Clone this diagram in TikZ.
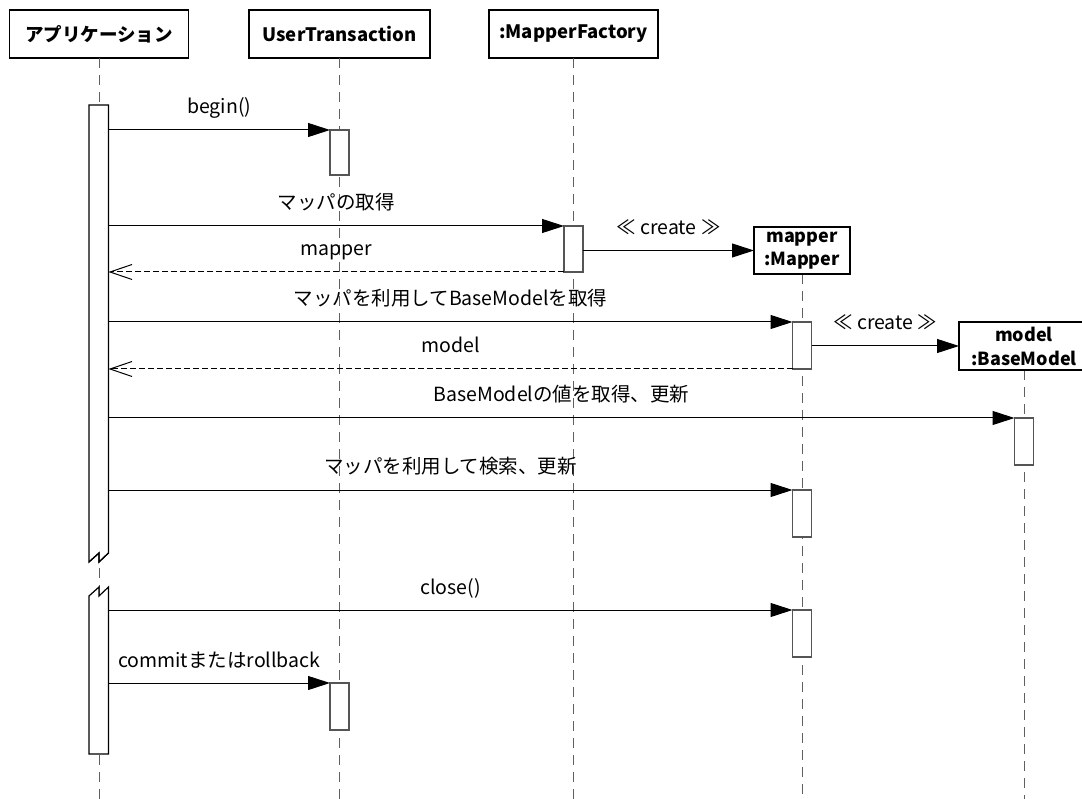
\documentclass[tikz,border=0pt]{standalone}
\usepackage{fontspec}
\setmainfont{Noto Sans CJK JP}
\usetikzlibrary{arrows.meta}
\definecolor{lifegray}{HTML}{606060}
\definecolor{bargray}{HTML}{555555}
\tikzset{
  head/.style={draw=black, line width=1.2pt, fill=white, minimum height=48pt,
    inner sep=0pt, outer sep=0pt, align=center,
    font=\fontsize{18.5}{23}\selectfont\bfseries},
  lifeline/.style={draw=lifegray, line width=1pt, dash pattern=on 10pt off 7pt},
  actbar/.style={draw=bargray, line width=1.2pt, fill=white, minimum width=19pt,
    inner sep=0pt, outer sep=0pt, anchor=north},
  call/.style={draw=black, line width=1pt, -{Triangle[length=22pt,width=14pt]}},
  reply/.style={draw=black, line width=1pt, dash pattern=on 6pt off 3pt,
    -{Straight Barb[length=22pt,width=15pt]}},
  lbl/.style={anchor=base, yshift=16pt, inner sep=0pt,
    font=\fontsize{19.5}{22}\selectfont},
}
\begin{document}
\begin{tikzpicture}[x=1pt,y=-1pt]
  \clip (0,0) rectangle (1082,799);
  \fill[white] (0,0) rectangle (1082,799);
  \coordinate (bottom) at (0,799);

  % participants
  \node[head, minimum width=179pt] (app) at (99,34) {アプリケーション};
  \node[head, minimum width=181pt] (ut) at (339.5,34) {UserTransaction};
  \node[head, minimum width=169pt] (mf) at (573.5,34) {:MapperFactory};

  % lifelines
  \draw[lifeline] (app.south) -- (app.south |- bottom);
  \draw[lifeline] (ut.south) -- (ut.south |- bottom);
  \draw[lifeline] (mf.south) -- (mf.south |- bottom);
  \draw[lifeline] (802,274) -- (802,799);
  \draw[lifeline] (1024,370) -- (1024,799);

  % application activation, broken in two parts
  \filldraw[draw=black, line width=1.2pt, fill=white]
    (89,562) -- (89,105) -- (108.5,105) -- (108.5,553) -- (99,562) -- (99,553) -- cycle;
  \draw[line width=1.2pt] (89,562) -- (99,553) -- (99,562) -- (108.5,553);
  \filldraw[draw=black, line width=1.2pt, fill=white]
    (89,596) -- (99,587) -- (99,596) -- (108.5,587) -- (108.5,754) -- (89,754) -- cycle;
  \coordinate (appR) at (108.5,0);

  % activation bars
  \node[actbar, minimum height=45pt] (utA) at (339.5,130) {};
  \node[actbar, minimum height=47pt] (utB) at (339.5,683) {};
  \node[actbar, minimum height=46pt] (mfA) at (573.5,226) {};
  \node[actbar, minimum height=47pt] (mpA) at (802,322) {};
  \node[actbar, minimum height=47pt] (mpB) at (802,490) {};
  \node[actbar, minimum height=47pt] (mpC) at (802,610) {};
  \node[actbar, minimum height=47pt] (bmA) at (1024,418) {};

  % created participants
  \node[head, minimum width=96pt, minimum height=47pt, font=\fontsize{18}{23}\selectfont\bfseries]
    (mp) at (802,250.5) {mapper\\:Mapper};
  \node[head, minimum width=130pt, minimum height=48pt, font=\fontsize{18}{24}\selectfont\bfseries]
    (bm) at (1024,346) {model\\:BaseModel};

  % messages
  \draw[call] (appR |- utA.north west) -- node[lbl] {begin()} (utA.north west);
  \draw[call] (appR |- mfA.north west) -- node[lbl] {マッパの取得} (mfA.north west);
  \draw[reply] (mfA.south west) -- node[lbl] {mapper} (appR |- mfA.south west);
  \draw[call] (mfA.east |- mp.west) -- node[lbl] {≪ create ≫} (mp.west);
  \draw[call] (appR |- mpA.north west) -- node[lbl] {マッパを利用してBaseModelを取得} (mpA.north west);
  \draw[call] (mpA.east |- bm.west) -- node[lbl] {≪ create ≫} (bm.west);
  \draw[reply] (mpA.south west) -- node[lbl] {model} (appR |- mpA.south west);
  \draw[call] (appR |- bmA.north west) -- node[lbl] {BaseModelの値を取得、更新} (bmA.north west);
  \draw[call] (appR |- mpB.north west) -- node[lbl] {マッパを利用して検索、更新} (mpB.north west);
  \draw[call] (appR |- mpC.north west) -- node[lbl] {close()} (mpC.north west);
  \draw[call] (appR |- utB.north west) -- node[lbl] {commitまたはrollback} (utB.north west);
\end{tikzpicture}
\end{document}
